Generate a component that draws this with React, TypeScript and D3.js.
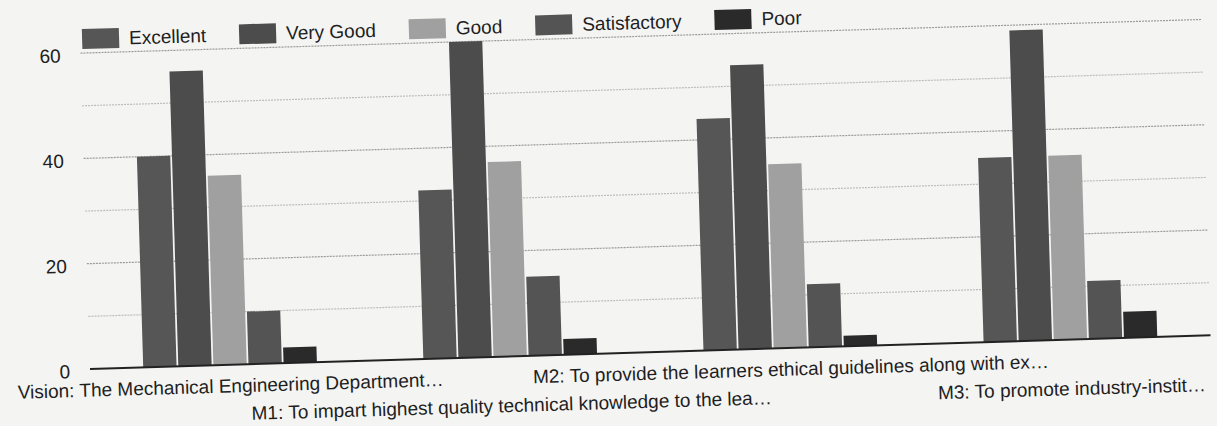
import { useEffect, useRef } from "react";
import * as d3 from "d3";

// categories (x axis, truncated like the original)
const categories = [
  "Vision: The Mechanical Engineering Department…",
  "M1: To impart highest quality technical knowledge to the lea…",
  "M2: To provide the learners ethical guidelines along with ex…",
  "M3: To promote industry-instit…",
];

const seriesNames = ["Excellent", "Very Good", "Good", "Satisfactory", "Poor"];

// counts per category
const excellent = [40, 32, 44, 35];
const veryGood = [56, 60, 54, 59];
const good = [36, 37, 35, 35];
const satisfactory = [10, 15, 12, 11];
const poor = [3, 3, 2, 5];

const yTickLabels = [0, 20, 40, 60];
const yGridValues = [10, 20, 30, 40, 50, 60];

// grey tones of the photocopy
const seriesColors = ["#565656", "#4c4c4c", "#a0a0a0", "#545454", "#2a2a2a"];

const W = 1217;
const H = 426;

function App() {
  const ref = useRef<SVGSVGElement | null>(null);

  useEffect(() => {
    const svg = d3.select(ref.current);
    svg.selectAll("*").remove();

    const values = [excellent, veryGood, good, satisfactory, poor];
    const rows = categories.map((c, i) => ({
      cat: c,
      vals: seriesNames.map((s, k) => ({ key: s, value: values[k][i], k })),
    }));

    const margin = { left: 90, right: 6, top: 53, bottom: 57 };
    const x0 = d3
      .scaleBand<string>()
      .domain(categories)
      .range([margin.left, W - margin.right])
      .paddingInner(0.38)
      .paddingOuter(0.19);
    const x1 = d3
      .scaleBand<string>()
      .domain(seriesNames)
      .range([0, x0.bandwidth()])
      .paddingInner(0.05);
    const y = d3
      .scaleLinear()
      .domain([0, 60])
      .range([H - margin.bottom, margin.top]);

    svg.append("rect").attr("width", W).attr("height", H).attr("fill", "#f4f4f3");

    // the scan is slightly tilted
    const g = svg
      .append("g")
      .attr("transform", `rotate(-1.72 ${margin.left} ${y(0)})`)
      .style("font-family", "'Liberation Sans', Arial, sans-serif");

    // gridlines
    g.selectAll("line.grid")
      .data(yGridValues)
      .enter()
      .append("line")
      .attr("class", "grid")
      .attr("x1", margin.left)
      .attr("x2", W - margin.right)
      .attr("y1", (d) => y(d))
      .attr("y2", (d) => y(d))
      .attr("stroke", (d) => (d % 20 === 0 ? "#9a9a9a" : "#bdbdbd"))
      .attr("stroke-width", 1.2)
      .attr("stroke-dasharray", "2 1");

    // y labels
    g.selectAll("text.ytick")
      .data(yTickLabels)
      .enter()
      .append("text")
      .attr("class", "ytick")
      .attr("x", margin.left - 20)
      .attr("y", (d) => y(d) + 2)
      .attr("dy", "0.35em")
      .attr("text-anchor", "end")
      .attr("font-size", 19)
      .attr("fill", "#1e1e1e")
      .text((d) => d);

    // bars
    const groups = g
      .selectAll("g.cat")
      .data(rows)
      .enter()
      .append("g")
      .attr("class", "cat")
      .attr("transform", (d) => `translate(${x0(d.cat)},0)`);

    groups
      .selectAll("rect")
      .data((d) => d.vals)
      .enter()
      .append("rect")
      .attr("x", (d) => x1(d.key) as number)
      .attr("y", (d) => y(d.value))
      .attr("width", x1.bandwidth())
      .attr("height", (d) => y(0) - y(d.value))
      .attr("fill", (d) => seriesColors[d.k]);

    // baseline
    g.append("line")
      .attr("x1", margin.left)
      .attr("x2", W - margin.right)
      .attr("y1", y(0))
      .attr("y2", y(0))
      .attr("stroke", "#222")
      .attr("stroke-width", 2);

    // x labels, alternating in two rows
    g.selectAll("text.xlab")
      .data(categories)
      .enter()
      .append("text")
      .attr("class", "xlab")
      .attr("x", (d) => (x0(d) as number) + x0.bandwidth() / 2)
      .attr("y", (d, i) => y(0) + (i % 2 === 0 ? 21 : 49))
      .attr("dy", "0.35em")
      .attr("text-anchor", "middle")
      .attr("font-size", 19)
      .attr("fill", "#1e1e1e")
      .text((d) => d);

    // legend, laid out left to right
    const legend = g.append("g").attr("class", "legend");
    let lx = margin.left + 2;
    const ly = 39;
    seriesNames.forEach((name, k) => {
      legend
        .append("rect")
        .attr("x", lx)
        .attr("y", ly - 10)
        .attr("width", 37)
        .attr("height", 20)
        .attr("fill", seriesColors[k]);
      const t = legend
        .append("text")
        .attr("x", lx + 47)
        .attr("y", ly)
        .attr("dy", "0.35em")
        .attr("font-size", 19)
        .attr("fill", "#1e1e1e")
        .text(name);
      const tw = (t.node() as SVGTextElement).getComputedTextLength();
      lx += 47 + tw + 33;
    });
  }, []);

  return (
    <svg
      ref={ref}
      width={W}
      height={H}
      style={{ position: "absolute", left: 0, top: 0 }}
    />
  );
}

export default App;
